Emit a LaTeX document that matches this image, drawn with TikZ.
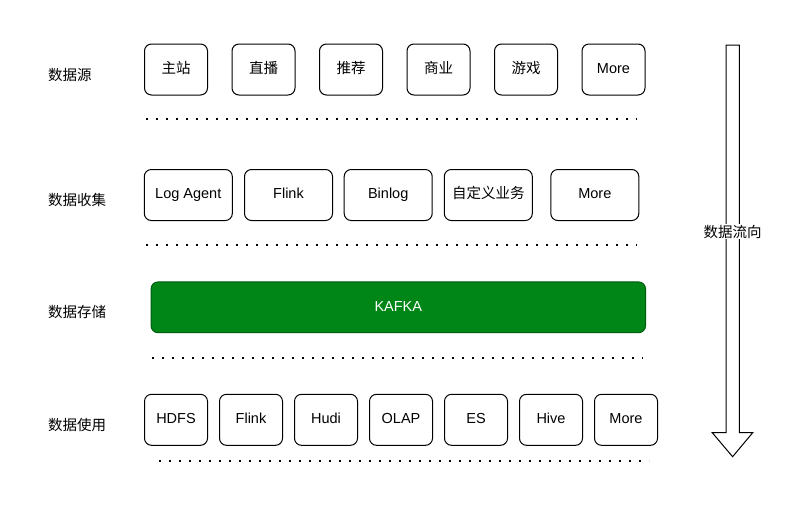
\documentclass[tikz,border=0pt]{standalone}
\usepackage{fontspec}
\setmainfont{Liberation Sans}
\newfontfamily\cjk{Noto Sans CJK SC}
\usepackage{tikz}
\usetikzlibrary{positioning}

\definecolor{kafkagreen}{RGB}{0,133,23}

\tikzset{
    box/.style={draw, line width=1pt, rounded corners=7pt, minimum height=51pt,
        inner sep=0pt, text height=11pt, text depth=3.5pt,
        font=\fontsize{14.5}{16}\selectfont},
    smallbox/.style={box, minimum width=63pt},
    widebox/.style={box, minimum width=88pt},
    layer/.style={anchor=west, inner sep=0pt, font=\fontsize{14.5}{16}\cjk},
    dots/.style={line width=2pt, dash pattern=on 2pt off 8pt}
}

\begin{document}
\begin{tikzpicture}[x=1pt, y=-1pt]
            \useasboundingbox[fill=white] (0,0) rectangle (793,523);

            % layer names
            \node[layer] (src) at (48,75) {数据源};
            \node[layer] (col) at (48,200) {数据收集};
            \node[layer] (sto) at (48,312) {数据存储};
            \node[layer] (use) at (48,425) {数据使用};

            % sources
            \node[smallbox] (main) at (176,69.5) {\cjk 主站};
            \node[smallbox] (live) at (263.5,69.5) {\cjk 直播};
            \node[smallbox] (rec) at (351,69.5) {\cjk 推荐};
            \node[smallbox] (biz) at (438.5,69.5) {\cjk 商业};
            \node[smallbox] (game) at (526,69.5) {\cjk 游戏};
            \node[smallbox] (more1) at (613.5,69.5) {More};
            \draw[dots] (146,119) -- (637,119);

            % collection
            \node[widebox] (agent) at (188.3,195) {Log Agent};
            \node[widebox] (flink1) at (288.5,195) {Flink};
            \node[widebox] (binlog) at (388.2,195) {Binlog};
            \node[widebox] (custom) at (488.3,195) {\cjk 自定义业务};
            \node[widebox] (more2) at (594.8,195) {More};
            \draw[dots] (146,245) -- (637,245);

            % storage
            \node[box, fill=kafkagreen, draw=kafkagreen!70!black, text=white,
                minimum width=494.5pt, minimum height=50.8pt] (kafka) at (398.3,307.3) {KAFKA};
            \draw[dots] (152,358) -- (643,358);

            % usage
            \node[smallbox] (hdfs) at (176,419.8) {HDFS};
            \node[smallbox] (flink2) at (251,419.8) {Flink};
            \node[smallbox] (hudi) at (326,419.8) {Hudi};
            \node[smallbox] (olap) at (401,419.8) {OLAP};
            \node[smallbox] (es) at (476,419.8) {ES};
            \node[smallbox] (hive) at (551,419.8) {Hive};
            \node[smallbox] (more3) at (626,419.8) {More};
            \draw[dots] (159,461) -- (649,461);

            % flow direction
            \draw[line width=1pt, fill=white] (726,45) -- (739.3,45) -- (739.3,432.7)
                -- (752.7,432.7) -- (732.6,456.7) -- (712.3,432.7) -- (726,432.7) -- cycle;
            \node[fill=white, inner sep=1pt, font=\fontsize{14.5}{16}\cjk] (flow) at (732.6,231.5) {数据流向};
        \end{tikzpicture}
\end{document}
